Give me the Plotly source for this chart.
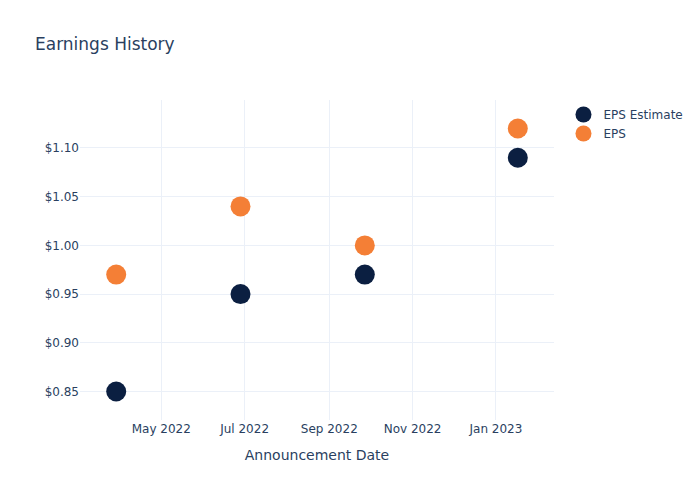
import plotly.graph_objects as go

dates = ["2022-03-29", "2022-06-28", "2022-09-27", "2023-01-17"]
eps_estimate = [0.85, 0.95, 0.97, 1.09]
eps_actual = [0.97, 1.04, 1.00, 1.12]

fig = go.Figure()
fig.add_trace(go.Scatter(x=dates, y=eps_estimate, mode="markers", name="EPS Estimate",
                         marker=dict(color="#0b1f41", size=20)))
fig.add_trace(go.Scatter(x=dates, y=eps_actual, mode="markers", name="EPS",
                         marker=dict(color="#f47f36", size=20)))
fig.update_layout(
    template="plotly_white",
    font=dict(family="DejaVu Sans"),
    title=dict(text="Earnings History"),
    width=700, height=500,
    xaxis=dict(title="Announcement Date", dtick="M2", tickformat="%b %Y"),
    yaxis=dict(tickprefix="$", tickformat=".2f"),
)
fig.write_html("out.html", config={"displayModeBar": False},
               post_script="document.body.style.margin='0';")
